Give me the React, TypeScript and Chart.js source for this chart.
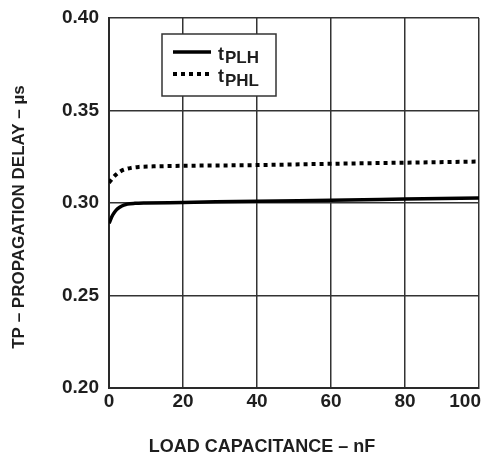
import React, { useEffect, useRef } from "react";
import { Chart, registerables } from "chart.js";

Chart.register(...registerables);

// Load capacitance (nF)
const capPLH = [0, 1, 2, 3, 4, 5, 7, 10, 20, 40, 60, 80, 100];
const tPLH = [0.289, 0.2935, 0.2963, 0.2978, 0.2988, 0.2994, 0.2998, 0.3, 0.3003, 0.301, 0.3015, 0.3021, 0.3027];
const capPHL = [0, 1, 2, 3, 4, 6, 8, 12, 20, 40, 60, 80, 100];
const tPHL = [0.311, 0.3135, 0.3155, 0.317, 0.318, 0.319, 0.3195, 0.3198, 0.3201, 0.3205, 0.3212, 0.3218, 0.3224];

const xTicks = [0, 20, 40, 60, 80, 100];
const yTicks = [0.2, 0.25, 0.3, 0.35, 0.4];
const yTickLabels = ["0.20", "0.25", "0.30", "0.35", "0.40"];

const xTitle = "LOAD CAPACITANCE \u2013 nF";
const yTitle = "TP \u2013 PROPAGATION DELAY \u2013 \u00b5s";

const FONT = "'Liberation Sans', Arial, sans-serif";
const INK = "#1e1e1e";

const textPlugin = {
  id: "textPlugin",
  afterDraw(chart: any) {
    const { ctx, chartArea, scales } = chart;
    const xs = scales.x;
    const ys = scales.y;
    ctx.save();
    ctx.fillStyle = INK;

    // y tick labels
    ctx.font = `bold 19px ${FONT}`;
    ctx.textAlign = "right";
    ctx.textBaseline = "middle";
    yTicks.forEach((v, i) => {
      ctx.fillText(yTickLabels[i], chartArea.left - 10, ys.getPixelForValue(v));
    });

    // x tick labels (last one kept inside the plot width)
    ctx.textBaseline = "top";
    xTicks.forEach((v, i) => {
      const px = xs.getPixelForValue(v);
      const label = String(v);
      if (i === xTicks.length - 1) {
        ctx.textAlign = "right";
        ctx.fillText(label, px + 2, chartArea.bottom + 4);
      } else {
        ctx.textAlign = "center";
        ctx.fillText(label, px, chartArea.bottom + 4);
      }
    });

    // axis titles
    ctx.textAlign = "center";
    ctx.textBaseline = "middle";
    ctx.font = `bold 18px ${FONT}`;
    ctx.fillText(xTitle, 262, chartArea.bottom + 59);
    ctx.font = `bold 17px ${FONT}`;
    ctx.save();
    ctx.translate(19, 217);
    ctx.rotate(-Math.PI / 2);
    ctx.fillText(yTitle, 0, 0);
    ctx.restore();

    // legend box
    const bx = chartArea.left + 53;
    const by = chartArea.top + 16;
    const bw = 114;
    const bh = 62;
    ctx.fillStyle = "#ffffff";
    ctx.fillRect(bx, by, bw, bh);
    ctx.strokeStyle = "#333333";
    ctx.lineWidth = 1.5;
    ctx.strokeRect(bx, by, bw, bh);

    const items = [
      { sub: "PLH", dash: [] as number[], y: by + 18, subDy: 11 },
      { sub: "PHL", dash: [4, 4], y: by + 40, subDy: 12 },
    ];
    items.forEach((it) => {
      ctx.beginPath();
      ctx.setLineDash(it.dash);
      ctx.lineWidth = it.dash.length ? 4 : 3.5;
      ctx.strokeStyle = "#000000";
      ctx.moveTo(bx + 11, it.y);
      ctx.lineTo(bx + 49, it.y);
      ctx.stroke();
      ctx.setLineDash([]);
      ctx.fillStyle = INK;
      ctx.textAlign = "left";
      ctx.textBaseline = "alphabetic";
      ctx.font = `bold 18px ${FONT}`;
      ctx.fillText("t", bx + 56, it.y + 8);
      const tw = ctx.measureText("t").width;
      ctx.font = `bold 17px ${FONT}`;
      ctx.fillText(it.sub, bx + 56 + tw + 1, it.y + it.subDy);
    });
    ctx.restore();
  },
};

export default function App() {
  const ref = useRef<HTMLCanvasElement>(null);

  useEffect(() => {
    if (!ref.current) return;
    const chart = new Chart(ref.current, {
      type: "line",
      data: {
        datasets: [
          {
            label: "tPLH",
            data: capPLH.map((x, i) => ({ x, y: tPLH[i] })),
            borderColor: "#000000",
            borderWidth: 3.5,
            pointRadius: 0,
            cubicInterpolationMode: "monotone",
            fill: false,
          },
          {
            label: "tPHL",
            data: capPHL.map((x, i) => ({ x, y: tPHL[i] })),
            borderColor: "#000000",
            borderWidth: 4,
            borderDash: [4, 4],
            borderCapStyle: "butt",
            pointRadius: 0,
            cubicInterpolationMode: "monotone",
            fill: false,
          },
        ],
      },
      options: {
        responsive: false,
        animation: false,
        layout: { padding: { left: 109, top: 18, right: 17, bottom: 72 } },
        plugins: { legend: { display: false }, tooltip: { enabled: false } },
        scales: {
          x: {
            type: "linear",
            min: 0,
            max: 100,
            ticks: { display: false, stepSize: 20 },
            grid: { color: "#333333", lineWidth: 1.5, drawTicks: false },
            border: { display: true, color: "#2a2a2a", width: 2 },
          },
          y: {
            type: "linear",
            min: 0.2,
            max: 0.4,
            ticks: { display: false, stepSize: 0.05 },
            grid: { color: "#333333", lineWidth: 1.5, drawTicks: false },
            border: { display: true, color: "#2a2a2a", width: 2 },
          },
        },
      },
      plugins: [textPlugin],
    });
    return () => chart.destroy();
  }, []);

  return (
    <div style={{ position: "fixed", left: 0, top: 0, width: 496, height: 460, background: "#fff" }}>
      <canvas ref={ref} width={496} height={460} style={{ width: 496, height: 460 }} />
    </div>
  );
}
